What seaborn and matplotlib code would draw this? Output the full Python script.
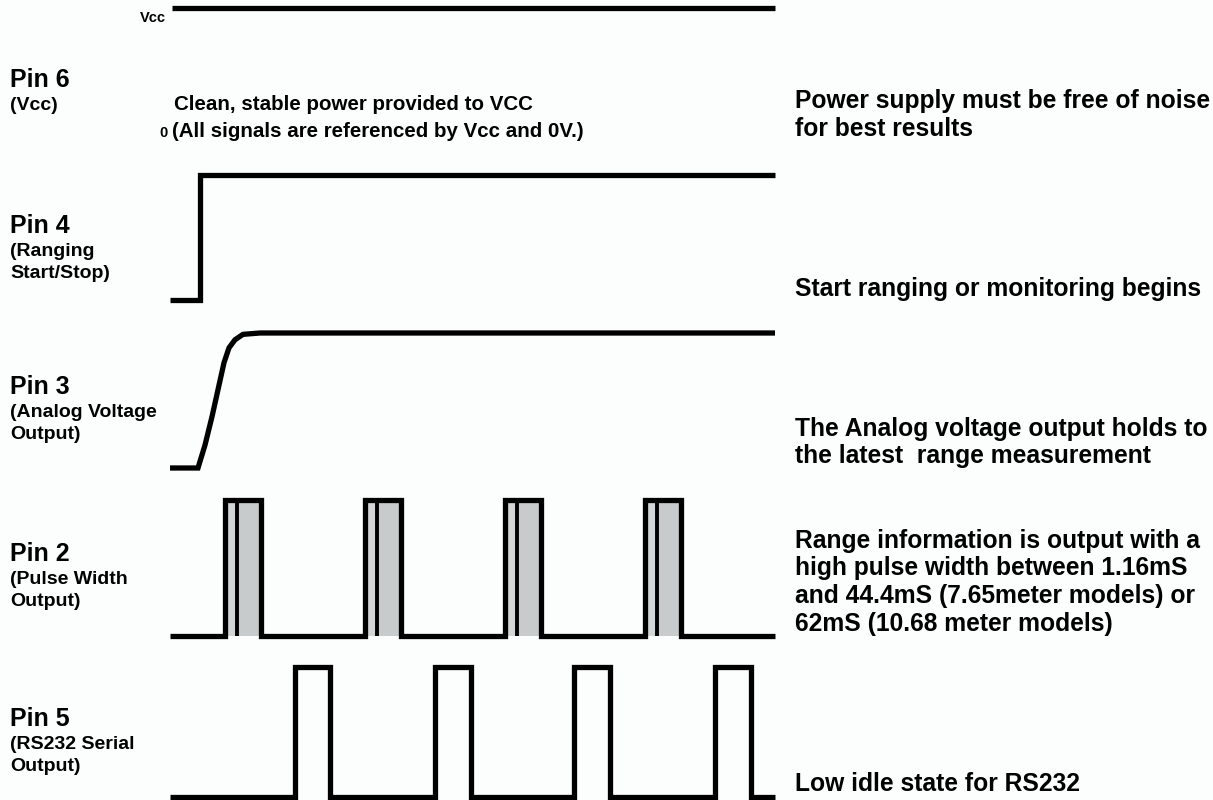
import matplotlib
matplotlib.use("Agg")
import matplotlib.pyplot as plt
import seaborn as sns

# timing diagram data (x in time units matching the canvas, levels 0/1)
pin6_t = [172, 775]
pin6_lv = [1, 1]

pin4_t = [170, 200, 200, 775]
pin4_lv = [0, 0, 1, 1]

pin3_t = [170, 198, 205, 212, 218, 224, 229, 235, 243, 260, 775]
pin3_lv = [0, 0, 0.17, 0.38, 0.58, 0.78, 0.89, 0.95, 0.99, 1, 1]

pin2_rise = [225, 365, 505, 645]
pin2_fall = [261, 401, 541, 681]
pin2_inner = [237, 377, 517, 657]

pin5_rise = [295, 435, 574, 715]
pin5_fall = [330, 471, 610, 751]

t_start, t_end = 170, 775

# row levels on the canvas: (low, high)
rows = {
    "pin6": (130, 8),
    "pin4": (300, 175),
    "pin3": (468, 333),
    "pin2": (636, 500),
    "pin5": (797, 667),
}

pin_labels = [
    ("Pin 6", ["(Vcc)"], 87),
    ("Pin 4", ["(Ranging", "Start/Stop)"], 233),
    ("Pin 3", ["(Analog Voltage", "Output)"], 394),
    ("Pin 2", ["(Pulse Width", "Output)"], 561),
    ("Pin 5", ["(RS232 Serial", "Output)"], 726),
]

notes = [
    (["Power supply must be free of noise", "for best results"], 108),
    (["Start ranging or monitoring begins"], 296),
    (["The Analog voltage output holds to", "the latest  range measurement"], 436),
    (["Range information is output with a", "high pulse width between 1.16mS",
      "and 44.4mS (7.65meter models) or", "62mS (10.68 meter models)"], 548),
    (["Low idle state for RS232"], 791),
]


def step_path(rise, fall):
    t = [t_start]
    lv = [0]
    for r, f in zip(rise, fall):
        t += [r, r, f, f]
        lv += [0, 1, 1, 0]
    t.append(t_end)
    lv.append(0)
    return t, lv


def to_y(row, lv):
    low, high = rows[row]
    return [low + v * (high - low) for v in lv]


sns.set_theme(style="white")
plt.rcParams["font.family"] = ["Liberation Sans", "DejaVu Sans"]
plt.rcParams["font.weight"] = "bold"
plt.rcParams["text.color"] = "black"

fig = plt.figure(figsize=(12.13, 8), dpi=100)
fig.patch.set_facecolor("#fcfdfd")
ax = fig.add_axes([0, 0, 1, 1])
ax.set_facecolor("#fcfdfd")

lw = 3.8
kw = dict(color="black", sort=False, estimator=None, lw=lw, ax=ax, legend=False)

# gray fill inside pin 2 pulses
for r, f, i in zip(pin2_rise, pin2_fall, pin2_inner):
    lo, hi = rows["pin2"]
    ax.fill_between([r, i], hi, lo, color="#d3d6d6", lw=0, zorder=1)
    ax.fill_between([i, f], hi, lo, color="#c8cbcb", lw=0, zorder=1)
    sns.lineplot(x=[i, i], y=to_y("pin2", [0, 1]), color="black", sort=False,
                 estimator=None, lw=2.8, ax=ax, legend=False)

sns.lineplot(x=pin6_t, y=to_y("pin6", pin6_lv), **kw)
sns.lineplot(x=pin4_t, y=to_y("pin4", pin4_lv), **kw)
sns.lineplot(x=pin3_t, y=to_y("pin3", pin3_lv), **kw)
t2, l2 = step_path(pin2_rise, pin2_fall)
sns.lineplot(x=t2, y=to_y("pin2", l2), **kw)
t5, l5 = step_path(pin5_rise, pin5_fall)
sns.lineplot(x=t5, y=to_y("pin5", l5), **kw)

for line in ax.get_lines():
    line.set_solid_capstyle("butt")
    line.set_solid_joinstyle("miter")

# labels
ax.text(140, 22, "Vcc", fontsize=10.5, fontweight="bold")
ax.text(174, 110, "Clean, stable power provided to VCC", fontsize=14.8, fontweight="bold")
ax.text(159, 137, "0", fontsize=10.5, fontweight="bold")
ax.text(172, 137, "(All signals are referenced by Vcc and 0V.)", fontsize=14.8, fontweight="bold")

for title, sub, y in pin_labels:
    ax.text(10, y, title, fontsize=18, fontweight="bold")
    for k, s in enumerate(sub):
        ax.text(10, y + 23 + 22 * k, s, fontsize=14, fontweight="bold")

for lines, y in notes:
    for k, s in enumerate(lines):
        ax.text(795, y + 27.5 * k, s, fontsize=17.7, fontweight="bold")

ax.set_xlim(0, 1213)
ax.set_ylim(800, 0)
ax.axis("off")

fig.savefig("out.png", dpi=100, facecolor=fig.get_facecolor())
